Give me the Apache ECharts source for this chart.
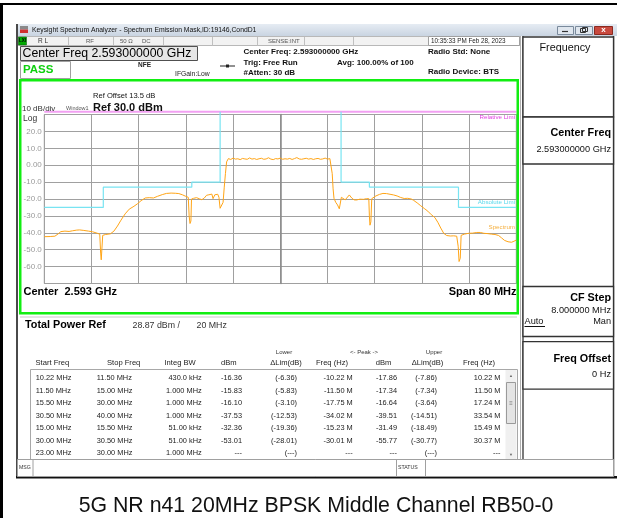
<!DOCTYPE html>
<html>
<head>
<meta charset="utf-8">
<script src="https://cdn.jsdelivr.net/npm/echarts@6/dist/echarts.min.js"></script>
<style>
html,body{margin:0;padding:0;background:#fff;}
#chart{width:617px;height:518px;}
</style>
</head>
<body>
<div id="chart"></div>
<script>
// ---------- DATA ----------
var specFreq = [-40,-39,-38.2,-37.6,-37.2,-36.5,-35.8,-35.2,-34.5,-34,-33.3,-32.5,-31.8,-31,-30.6,-30.45,-30.35,-30.2,-30.1,-29.6,-28.8,-28.2,-27.6,-27,-26.3,-25.6,-24.8,-24.2,-23.6,-22.9,-22.2,-21.5,-20.8,-20,-19.3,-18.5,-17.8,-17.2,-16.6,-16.1,-15.6,-15.45,-15.3,-15.15,-15.05,-14.7,-14.2,-13.7,-13.3,-12.9,-12.5,-12.1,-11.6,-11.4,-11.1,-10.9,-10.6,-10.4,-10.2,-10.0,-9.7,-9.5,-9.3,-9.1,
 -8.8,-8.4,-8.0,-7.6,-7.2,-6.8,-6.4,-6.0,-5.6,-5.2,-4.8,-4.4,-4.0,-3.6,-3.2,-2.8,-2.4,-2.0,-1.6,-1.2,-0.8,-0.4,0,0.4,0.8,1.2,1.6,2.0,2.4,2.8,3.2,3.6,4.0,4.4,4.8,5.2,5.6,6.0,6.4,6.8,7.2,7.6,8.0,8.4,
 8.8,8.95,9.1,9.4,9.7,10.0,10.2,10.35,10.6,11.0,11.3,11.7,12.1,12.5,12.9,13.5,14.1,14.6,15.0,15.1,15.2,15.35,15.5,15.8,16.2,16.8,17.4,18.0,18.6,19.2,19.8,20.4,21,21.6,22.2,22.6,23.2,23.8,24.4,25,25.6,26.2,26.7,27.2,27.7,28.2,28.8,29.4,29.9,30.15,30.3,30.5,30.65,31.2,31.9,32.6,33.3,33.9,34.5,35.2,35.8,36.4,37.0,37.5,38.0,38.6,39.2,39.6,40];
var specLevel = [-42.3,-42.2,-42,-40.5,-39.3,-39,-39.2,-38.8,-38.4,-38.3,-38.6,-39,-39.4,-40.3,-40.8,-52,-56,-55,-41.5,-41,-40.6,-39,-36,-32.5,-28.8,-26,-24.3,-22.8,-21,-19.4,-19.2,-19.4,-18.4,-17.4,-16.7,-16.5,-16.6,-16.8,-17.5,-18.3,-19.0,-30,-34.5,-33,-20,-19.6,-19.2,-19.9,-20.4,-19.5,-17.8,-17.5,-17.1,-19.8,-17.5,-16.5,-17.2,-19,-25.5,-24.5,-22,-13,-5,2,
 3.9,3.4,4.2,3.6,3.8,3.3,4.0,3.7,3.5,4.3,3.6,3.9,3.4,3.8,4.1,3.5,3.7,4.4,3.6,3.3,3.9,3.7,4.2,3.5,3.8,3.6,4.0,3.4,3.9,4.5,3.7,3.5,3.8,4.1,3.6,3.9,3.4,3.8,4.0,3.5,3.7,4.2,3.6,3.9,
 -5,-14,-19.6,-22,-23.5,-25.8,-26,-19,-18.3,-20.5,-19.5,-17.6,-19.4,-20.5,-20.6,-20.1,-20.2,-19.8,-19.8,-30,-35.5,-33.5,-19.8,-18.9,-18.2,-17.3,-16.7,-16.8,-17.2,-17.6,-18.2,-19.1,-19.7,-19.6,-20.0,-20.8,-22.3,-24,-25.6,-27.2,-29.3,-31,-33.8,-37.2,-40.3,-41.6,-41.9,-41.8,-42,-48,-57,-55,-41.5,-40.8,-40.3,-40.2,-39.8,-39.8,-40.3,-40.5,-40.8,-41,-41.6,-43,-44.5,-45.3,-45.6,-45,-44.3];
var absLimitFreq  = [-40,-30,-30,-15,-15,-10.2,-10.2,null,10.3,10.3,15.1,15.1,30.2,30.2,40];
var absLimitLevel = [-25,-25,-13,-13,-10,-10,31.6,null,31.6,-10,-10,-13,-13,-25,-25];
var relLimitFreq  = [-40,40];
var relLimitLevel = [31.6,31.6];
var yTickValues = [20,10,0,-10,-20,-30,-40,-50,-60];
var yTickLabels = ["20.0","10.0","0.00","-10.0","-20.0","-30.0","-40.0","-50.0","-60.0"];

var tblStart = ["10.22 MHz","11.50 MHz","15.50 MHz","30.50 MHz","15.00 MHz","30.00 MHz","23.00 MHz"];
var tblStop  = ["11.50 MHz","15.00 MHz","30.00 MHz","40.00 MHz","15.50 MHz","30.50 MHz","30.00 MHz"];
var tblBW    = ["430.0 kHz","1.000 MHz","1.000 MHz","1.000 MHz","51.00 kHz","51.00 kHz","1.000 MHz"];
var tblLowDbm  = ["-16.36","-15.83","-16.10","-37.53","-32.36","-53.01","---"];
var tblLowDLim = ["(-6.36)","(-5.83)","(-3.10)","(-12.53)","(-19.36)","(-28.01)","(---)"];
var tblLowFreq = ["-10.22 M","-11.50 M","-17.75 M","-34.02 M","-15.23 M","-30.01 M","---"];
var tblUpDbm   = ["-17.86","-17.34","-16.64","-39.51","-31.49","-55.77","---"];
var tblUpDLim  = ["(-7.86)","(-7.34)","(-3.64)","(-14.51)","(-18.49)","(-30.77)","(---)"];
var tblUpFreq  = ["10.22 M","11.50 M","17.24 M","33.54 M","15.49 M","30.37 M","---"];

// ---------- HELPERS ----------
var FF = '"Liberation Sans", Arial, sans-serif';
function txt(s, x, y, size, o) {
  o = o || {};
  var al = o.align || 'left';
  return {type:'text', silent:true, z:o.z||30,
    style:{text:s, x:x, y:y, font:(o.bold?'bold ':'')+size+'px '+(o.family||FF), fill:o.color||'#000',
      align:al, textAlign:al, verticalAlign:'middle', textVerticalAlign:'middle'}};
}
function rect(x,y,w,h,fill,stroke,lw,z){
  return {type:'rect', silent:true, z:z||1, shape:{x:x,y:y,width:w,height:h},
    style:{fill:fill||'none', stroke:stroke||'none', lineWidth:lw||1}};
}
function ln(x1,y1,x2,y2,stroke,lw,z){
  return {type:'line', silent:true, z:z||2, shape:{x1:x1,y1:y1,x2:x2,y2:y2}, style:{stroke:stroke, lineWidth:lw||1}};
}
function zip(a,b){ var r=[]; for(var i=0;i<a.length;i++){ r.push(a[i]===null?[null,null]:[a[i],b[i]]); } return r; }

var g = [];
// outer black frame
g.push(rect(0,3,617,2,'#000',null,1,1));
g.push(rect(0,3,3,515,'#000',null,1,1));
// window background
g.push(rect(17,24,600,454,'#fff',null,1,1));
g.push(rect(16,24,2,454,'#4a4a4a',null,1,3));
g.push(rect(16,476,601,2.5,'#111',null,1,3));
g.push(ln(613.5,36,613.5,477,'#333',1.5,3));
// title bar
g.push({type:'rect', silent:true, z:2, shape:{x:18,y:24,width:599,height:12},
  style:{fill:{type:'linear',x:0,y:0,x2:0,y2:1,colorStops:[{offset:0,color:'#e6ecf3'},{offset:1,color:'#c9d4e1'}]}}});
g.push(rect(20,26,8,3.5,'#8a8a8a',null,1,3));
g.push(rect(20,29.5,8,3.5,'#d03030',null,1,3));
g.push(txt('Keysight Spectrum Analyzer - Spectrum Emission Mask,ID:19146,CondD1',32,29.8,6.8,{color:'#111'}));
g.push(rect(557.5,26.5,16,8,'#dfe6ee','#7a8a9c',1,3));
g.push(ln(562,31.5,568,31.5,'#333',1.2,4));
g.push(rect(575.5,26.5,17,8,'#dfe6ee','#7a8a9c',1,3));
g.push(rect(580.5,28.5,5,4,'none','#333',1,4));
g.push(rect(582.5,27.5,5,4,'none','#333',1,4));
g.push(rect(594.5,26.5,18,8,'#c8493e','#8a2a20',1,3));
g.push(txt('x',603.5,30,8,{color:'#fff',align:'center',bold:true}));
// RL row
g.push(rect(18,36.5,502,9,'#f2f2f2','#b8b8b8',1,2));
g.push(rect(18.5,37,8,8,'#0a0','#050',0.5,3));
g.push(txt('LXI',22.5,41.2,4.5,{color:'#000',align:'center',bold:true}));
[68,113,163,212,257,304,353].forEach(function(x){ g.push(ln(x+0.5,37,x+0.5,45.5,'#c0c0c0',1,3)); });
g.push(txt('R L',38,41.2,6.5,{color:'#333'}));
g.push(txt('RF',86,41.2,6,{color:'#555'}));
g.push(txt('50 Ω',120,41.2,6,{color:'#555'}));
g.push(txt('DC',142,41.2,6,{color:'#555'}));
g.push(txt('SENSE:INT',268,41.2,6,{color:'#555'}));
g.push(rect(428.5,36.5,91,9,'#fff','#a0a0a0',1,3));
g.push(txt('10:35:33 PM Feb 28, 2023',431,41.2,6.3,{color:'#222'}));
// center freq box
g.push(rect(20.5,46.5,177,14,'#e6e6e6','#505050',1,3));
g.push(txt('Center Freq 2.593000000 GHz',22.5,53.8,12.3,{color:'#000'}));
// PASS box
g.push(rect(20.5,61.5,50,17,'#fff','#a0a0a0',1,3));
g.push(txt('PASS',23,70.2,11.5,{color:'#10d010',bold:true}));
g.push(txt('NFE',138,65,6.5,{bold:true,color:'#222'}));
g.push(txt('IFGain:Low',175,74,6.8,{color:'#222'}));
g.push(ln(220,66,235,66,'#222',1,4));
g.push(rect(226,64.5,3,3,'#222',null,1,4));
g.push(txt('Center Freq: 2.593000000 GHz',243.5,52,8,{bold:true,color:'#111'}));
g.push(txt('Trig: Free Run',243.5,62.3,8,{bold:true,color:'#111'}));
g.push(txt('#Atten: 30 dB',243.5,72.6,8,{bold:true,color:'#111'}));
g.push(txt('Avg: 100.00% of 100',337,62.3,8,{bold:true,color:'#111'}));
g.push(txt('Radio Std: None',428,52,8,{bold:true,color:'#111'}));
g.push(txt('Radio Device: BTS',428,72,8,{bold:true,color:'#111'}));
// green frame
g.push(rect(20.25,80.25,497.5,233,'none','#11ee11',2.5,40));
// plot annotation texts
g.push(txt('Ref Offset 13.5 dB',93,96,7.6,{color:'#111'}));
g.push(txt('10 dB/div',22,108.3,8,{color:'#333'}));
g.push(txt('Window1',66,108.3,5.5,{color:'#555'}));
g.push(txt('Ref 30.0 dBm',93,107.5,11,{bold:true,color:'#111'}));
g.push(txt('Log',23,118.4,8.5,{color:'#333'}));
g.push(txt('Relative Limi',515,117.5,6.2,{color:'#e040e0',align:'right'}));
g.push(txt('Absolute Limi',515,202.6,6.2,{color:'#55d8ec',align:'right'}));
g.push(txt('Spectrum',515,227.3,6.2,{color:'#f5b040',align:'right'}));
g.push(txt('Center  2.593 GHz',23.5,292.4,11,{bold:true}));
g.push(txt('Span 80 MHz',516.5,292.4,11,{bold:true,align:'right'}));
// below plot
g.push(ln(20,317,517,317,'#c8c8c8',1,3));
g.push(txt('Total Power Ref',25,325.2,10.8,{bold:true}));
g.push(txt('28.87 dBm /',132.5,325.2,8.8,{color:'#333'}));
g.push(txt('20 MHz',196.5,325.2,8.8,{color:'#333'}));
// table headers
g.push(txt('Lower',284,352.6,6,{align:'center',color:'#333'}));
g.push(txt('<- Peak ->',364,352.6,6,{align:'center',color:'#333'}));
g.push(txt('Upper',434,352.6,6,{align:'center',color:'#333'}));
var hy = 363;
g.push(txt('Start Freq',35.5,hy,7.6,{color:'#222'}));
g.push(txt('Stop Freq',107,hy,7.6,{color:'#222'}));
g.push(txt('Integ BW',164.5,hy,7.6,{color:'#222'}));
g.push(txt('dBm',221,hy,7.6,{color:'#222'}));
g.push(txt('ΔLim(dB)',286,hy,7.6,{color:'#222',align:'center'}));
g.push(txt('Freq (Hz)',332,hy,7.6,{color:'#222',align:'center'}));
g.push(txt('dBm',383.5,hy,7.6,{color:'#222',align:'center'}));
g.push(txt('ΔLim(dB)',427.5,hy,7.6,{color:'#222',align:'center'}));
g.push(txt('Freq (Hz)',479,hy,7.6,{color:'#222',align:'center'}));
// table box
g.push(rect(30.5,369.5,487,90,'#fff','#a8a8a8',1,2));
var rowY0 = 378.3, rowDY = 12.45;
for (var i=0;i<tblStart.length;i++){
  var y = rowY0 + i*rowDY;
  g.push(txt(tblStart[i],35.7,y,7.4,{color:'#222'}));
  g.push(txt(tblStop[i],96.7,y,7.4,{color:'#222'}));
  g.push(txt(tblBW[i],201.7,y,7.4,{color:'#222',align:'right'}));
  g.push(txt(tblLowDbm[i],242,y,7.4,{color:'#222',align:'right'}));
  g.push(txt(tblLowDLim[i],297,y,7.4,{color:'#222',align:'right'}));
  g.push(txt(tblLowFreq[i],352.7,y,7.4,{color:'#222',align:'right'}));
  g.push(txt(tblUpDbm[i],397,y,7.4,{color:'#222',align:'right'}));
  g.push(txt(tblUpDLim[i],437,y,7.4,{color:'#222',align:'right'}));
  g.push(txt(tblUpFreq[i],500.5,y,7.4,{color:'#222',align:'right'}));
}
// scrollbar
g.push(rect(505.5,370,11,89,'#f0f0f0',null,1,3));
g.push(txt('▲',511,376,4,{align:'center',color:'#666'}));
g.push(txt('▼',511,455,4,{align:'center',color:'#666'}));
g.push(rect(506.5,382.5,9,41,'#e4e4e4','#9a9a9a',1,4));
g.push(txt('≡',511,403,6,{align:'center',color:'#777'}));
// MSG bar
g.push(rect(17.5,459.5,596,17,'#fff','#a0a0a0',1,3));
g.push(ln(33,460,33,476,'#a0a0a0',1,4));
g.push(ln(396.5,460,396.5,476,'#a0a0a0',1,4));
g.push(ln(425.5,460,425.5,476,'#a0a0a0',1,4));
g.push(txt('MSG',19,467.5,5.2,{color:'#333'}));
g.push(txt('STATUS',398,467.5,5.2,{color:'#333'}));
// right panel
g.push(ln(520.5,36,520.5,459,'#b0b0b0',1,3));
g.push(ln(523,36,523,459,'#333',1.3,3));
function panelBox(y,h){ g.push(rect(523,y,90.5,h,'#fff','#333',1.3,4)); }
panelBox(37,80); panelBox(117,47); panelBox(286.5,50); panelBox(341.7,47.5);
g.push(txt('Frequency',565,48.3,10.8,{align:'center',color:'#111'}));
g.push(txt('Center Freq',611,133.3,10.8,{bold:true,align:'right'}));
g.push(txt('2.593000000 GHz',611,149,9.2,{align:'right',color:'#111'}));
g.push(txt('CF Step',611,298.5,10.8,{bold:true,align:'right'}));
g.push(txt('8.000000 MHz',611,310.7,9.2,{align:'right',color:'#111'}));
g.push(txt('Auto',524.5,321.7,9.2,{color:'#111'}));
g.push(ln(524.5,326.5,545,326.5,'#111',1,5));
g.push(txt('Man',611,321.7,9.2,{align:'right',color:'#111'}));
g.push(txt('Freq Offset',611,359.3,10.8,{bold:true,align:'right'}));
g.push(txt('0 Hz',611,374,9.2,{align:'right',color:'#111'}));
// caption
g.push(txt('5G NR n41 20MHz BPSK Middle Channel RB50-0',316,506,21.3,{align:'center',color:'#111'}));

var chart = echarts.init(document.getElementById('chart'), null, {renderer:'canvas'});
chart.setOption({
  animation:false,
  backgroundColor:'#fff',
  grid:{left:44.3, top:114.5, width:472, height:169, show:true, backgroundColor:'#fff', borderColor:'#9a9a9a', borderWidth:1, z:2, containLabel:false},
  xAxis:{type:'value', min:-40, max:40, interval:8, z:3,
    axisLine:{show:false}, axisTick:{show:false}, axisLabel:{show:false},
    splitLine:{show:true, lineStyle:{color:'#a0a0a0', width:1}}},
  yAxis:{type:'value', min:-70, max:30, interval:10, z:3,
    axisLine:{show:true, lineStyle:{color:'#8a8a8a', width:1.5}}, axisTick:{show:false},
    axisLabel:{show:true, margin:2.5, fontSize:8, fontFamily:FF, color:'#9a9a9a',
      formatter:function(v){ var k=yTickValues.indexOf(v); return k<0?'':yTickLabels[k]; }},
    splitLine:{show:true, lineStyle:{color:'#a0a0a0', width:1}}},
  series:[
    {type:'line', name:'Relative Limit', data:zip(relLimitFreq,relLimitLevel), showSymbol:false, clip:false, z:4,
      lineStyle:{color:'#f2a0f2', width:2}},
    {type:'line', name:'Absolute Limit', data:zip(absLimitFreq,absLimitLevel), showSymbol:false, clip:false, z:5,
      connectNulls:false, lineStyle:{color:'#78e4f2', width:1.2}},
    {type:'line', name:'Spectrum', data:zip(specFreq,specLevel), showSymbol:false, z:6,
      lineStyle:{color:'#ffa516', width:1}}
  ],
  graphic:g
});
</script>
</body>
</html>
